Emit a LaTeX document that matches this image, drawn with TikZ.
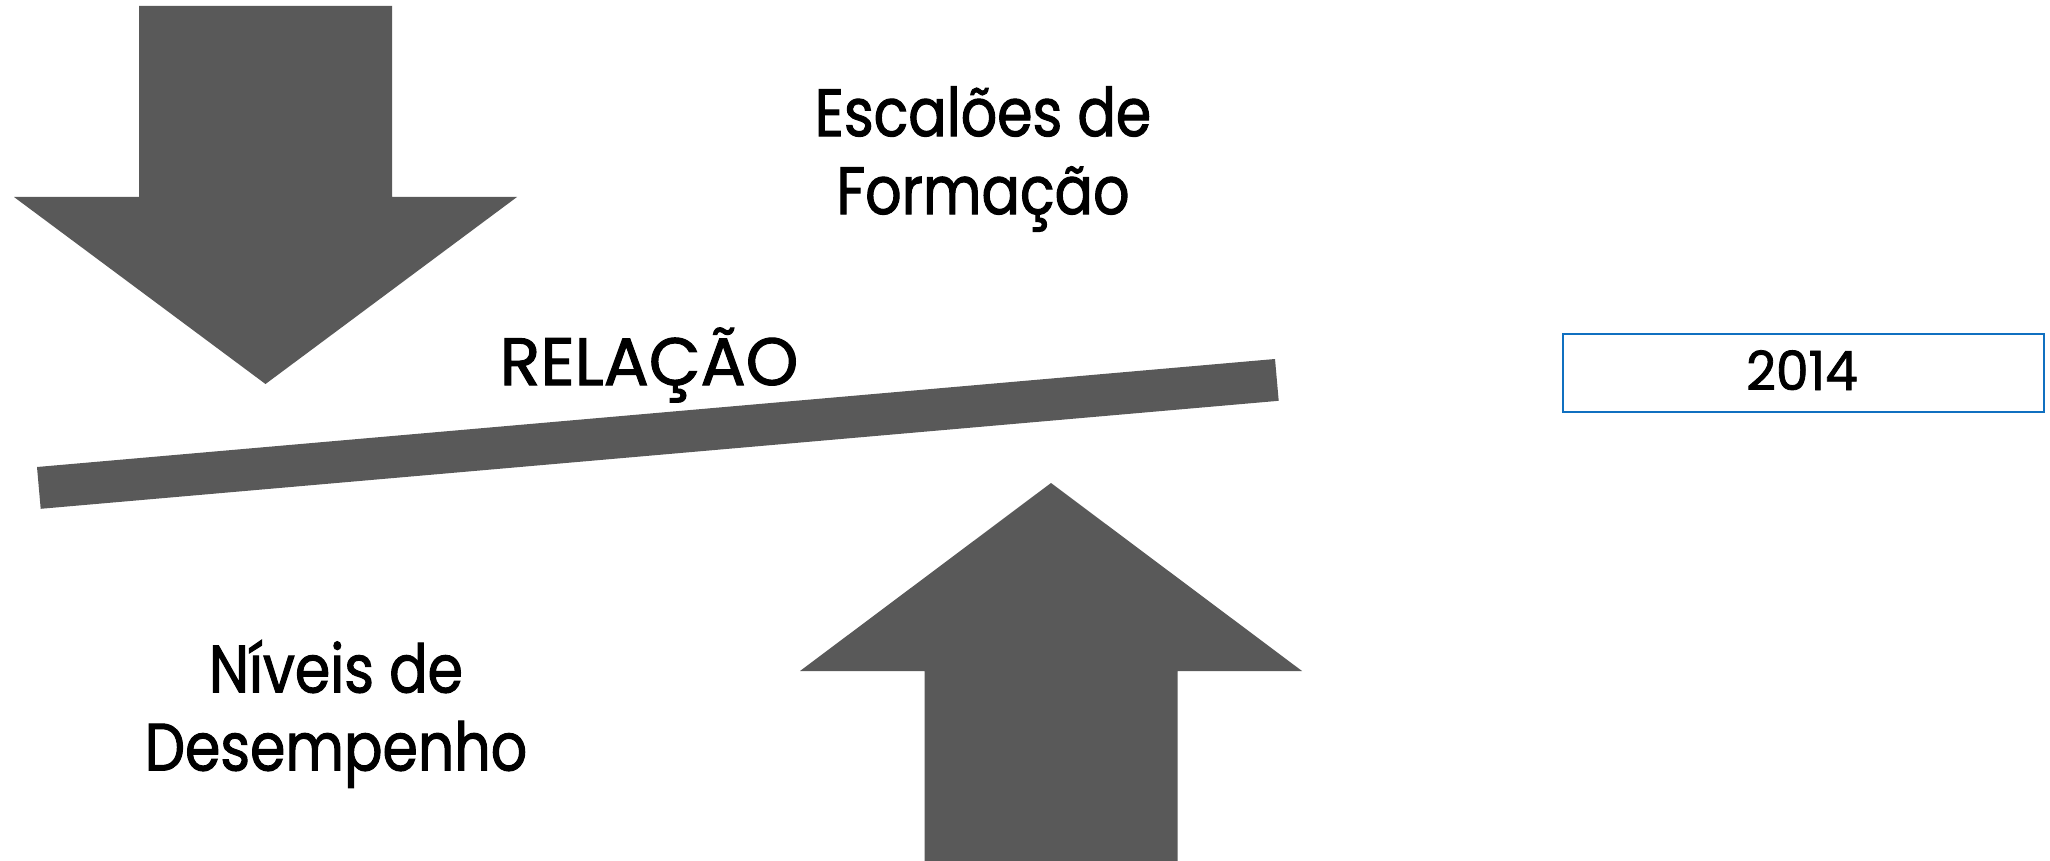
\documentclass[tikz,border=0pt]{standalone}
\usepackage{fontspec}
\setmainfont{Poppins}
\newfontfamily\capfont[FakeBold=1.5]{Poppins}
\newfontfamily\narrowfont[FakeStretch=0.85,FakeBold=1.5]{Poppins}
\newfontfamily\digitfont[FakeStretch=0.96,FakeBold=1.5]{Poppins}
\definecolor{shapegray}{RGB}{89,89,89}
\definecolor{boxblue}{RGB}{16,112,192}
\tikzset{
  shapefill/.style={fill=shapegray, draw=none},
  bigtext/.style={font=\narrowfont\fontsize{67}{78}\selectfont, align=center, inner sep=0pt, text=black},
  captext/.style={font=\capfont\fontsize{67}{78}\selectfont, inner sep=0pt, text=black},
  yeartext/.style={font=\digitfont\fontsize{54}{60}\selectfont, inner sep=0pt, text=black},
  yearbox/.style={draw=boxblue, line width=2pt, fill=white}
}
\begin{document}
\begin{tikzpicture}[x=1pt,y=-1pt]
\useasboundingbox (0,0) rectangle (2050,861);
\fill[white] (0,0) rectangle (2050,861);
% top arrow (pointing down)
\fill[shapefill] (139,6) -- (392,6) -- (392,197) -- (517,197) -- (265.5,384) -- (14,197) -- (139,197) -- cycle;
% bottom arrow (pointing up)
\fill[shapefill] (924.5,861) -- (924.5,671) -- (800,671) -- (1051,483) -- (1302,671) -- (1177.5,671) -- (1177.5,861) -- cycle;
% tilted bar
\fill[shapefill] (37,467) -- (1275,359) -- (1278.7,400.8) -- (40.7,508.8) -- cycle;
% texts
\node[bigtext, anchor=center] (esc) at (983,159) {Escalões de\\Formação};
\node[captext, anchor=base] (rel) at (649,385) {RELAÇÃO};
\node[bigtext, anchor=center] (niv) at (336,714) {Níveis de\\Desempenho};
\node[yearbox, minimum width=481pt, minimum height=78pt, inner sep=0pt] (yr) at (1803.5,373) {};
\node[yeartext, anchor=base] (yrt) at (1802,390) {2014};
\end{tikzpicture}
\end{document}
